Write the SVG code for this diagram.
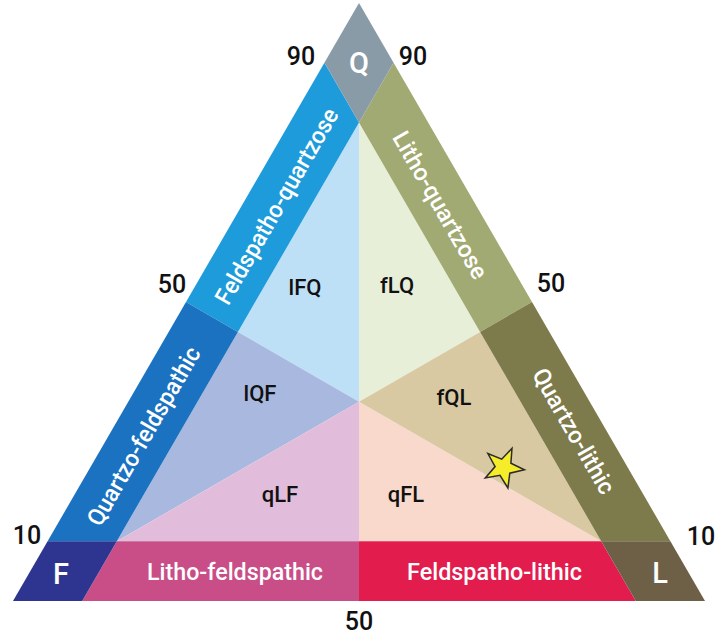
<svg xmlns="http://www.w3.org/2000/svg" width="722" height="635" viewBox="0 0 722 635">
<style>
.num{font-family:Roboto,"Liberation Sans",Arial,sans-serif;font-weight:500;font-size:25px;fill:#111;text-anchor:middle}
.inner{font-family:Roboto,"Liberation Sans",Arial,sans-serif;font-weight:500;font-size:22px;fill:#111;text-anchor:middle}
.band{font-family:Roboto,"Liberation Sans",Arial,sans-serif;font-weight:500;font-size:24px;fill:#fff;text-anchor:middle}
.corner{font-family:Roboto,"Liberation Sans",Arial,sans-serif;font-weight:500;font-size:29px;fill:#fff;text-anchor:middle}
</style>
<rect width="722" height="635" fill="#fff"/>
<g id="inner-regions">
  <polygon id="lFQ" points="359,122.6 237.9,331.9 359,401.7" fill="#BDE0F6"/>
  <polygon id="fLQ" points="359,122.6 359,401.7 480.1,331.9" fill="#E8EFD9"/>
  <polygon id="lQF" points="237.9,331.9 116.8,541.2 359,401.7" fill="#A9B8DF"/>
  <polygon id="qLF" points="116.8,541.2 359,541.2 359,401.7" fill="#E2BDDB"/>
  <polygon id="qFL" points="359,541.2 601.2,541.2 359,401.7" fill="#F8D9CB"/>
  <polygon id="fQL" points="601.2,541.2 480.1,331.9 359,401.7" fill="#D9C9A3"/>
</g>
<g id="bands">
  <polygon id="band-feldspatho-quartzose" points="324.4,62.8 359,122.6 237.9,331.9 186,302" fill="#1E9BDB"/>
  <polygon id="band-quartzo-feldspathic" points="186,302 237.9,331.9 116.8,541.2 47.6,541.2" fill="#1A72C0"/>
  <polygon id="band-litho-quartzose" points="393.6,62.8 532,302 480.1,331.9 359,122.6" fill="#A2AA74"/>
  <polygon id="band-quartzo-lithic" points="532,302 670.4,541.2 601.2,541.2 480.1,331.9" fill="#7D7A4B"/>
  <polygon id="band-litho-feldspathic" points="116.8,541.2 359,541.2 359,601 82.2,601" fill="#C94E87"/>
  <polygon id="band-feldspatho-lithic" points="359,541.2 601.2,541.2 635.8,601 359,601" fill="#E31C4E"/>
</g>
<g id="corners">
  <polygon id="corner-Q" points="359,3 324.4,62.8 359,122.6 393.6,62.8" fill="#8A9BA8"/>
  <polygon id="corner-F" points="13,601 47.6,541.2 116.8,541.2 82.2,601" fill="#2E3590"/>
  <polygon id="corner-L" points="705,601 670.4,541.2 601.2,541.2 635.8,601" fill="#6D6047"/>
</g>
<g id="star">
  <polygon points="512.0,448.3 510.9,463.3 524.4,469.7 509.8,473.2 507.9,488.0 500.0,475.3 485.3,478.0 495.1,466.6 487.9,453.5 501.7,459.2" fill="#F5EC2A" stroke="#2B2B2B" stroke-width="1.5" stroke-linejoin="miter"/>
</g>
<g id="corner-labels">
  <text class="corner" x="359" y="73">Q</text>
  <text class="corner" x="61" y="584">F</text>
  <text class="corner" x="660" y="583">L</text>
</g>
<g id="band-labels">
  <text class="band" transform="translate(276.5,206) rotate(-60)" y="8.5" textLength="222" lengthAdjust="spacingAndGlyphs">Feldspatho-quartzose</text>
  <text class="band" transform="translate(143.5,436) rotate(-60)" y="8.5" textLength="202" lengthAdjust="spacingAndGlyphs">Quartzo-feldspathic</text>
  <text class="band" transform="translate(440.5,205) rotate(60)" y="8.5" textLength="166" lengthAdjust="spacingAndGlyphs">Litho-quartzose</text>
  <text class="band" transform="translate(574,431) rotate(60)" y="8.5" textLength="141" lengthAdjust="spacingAndGlyphs">Quartzo-lithic</text>
  <text class="band" x="235" y="580" textLength="176" lengthAdjust="spacingAndGlyphs">Litho-feldspathic</text>
  <text class="band" x="494.5" y="580" textLength="175" lengthAdjust="spacingAndGlyphs">Feldspatho-lithic</text>
</g>
<g id="region-labels">
  <text class="inner" x="305" y="295">lFQ</text>
  <text class="inner" x="397" y="293">fLQ</text>
  <text class="inner" x="260" y="401">lQF</text>
  <text class="inner" x="454" y="405">fQL</text>
  <text class="inner" x="280" y="502">qLF</text>
  <text class="inner" x="406" y="502">qFL</text>
</g>
<g id="scale-labels">
  <text class="num" x="301" y="65">90</text>
  <text class="num" x="413" y="65">90</text>
  <text class="num" x="172" y="293">50</text>
  <text class="num" x="551" y="292">50</text>
  <text class="num" x="27" y="544">10</text>
  <text class="num" x="701" y="545">10</text>
  <text class="num" x="359" y="630">50</text>
</g>
</svg>
